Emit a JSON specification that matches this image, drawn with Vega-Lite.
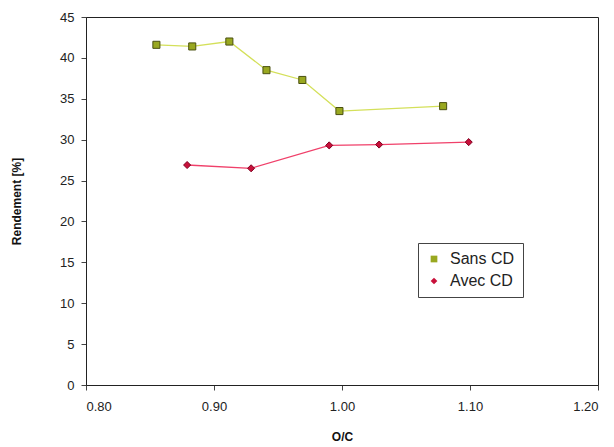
{
  "$schema": "https://vega.github.io/schema/vega-lite/v6.json",
  "width": 512,
  "height": 368,
  "autosize": {"type": "none"},
  "padding": {"left": 86, "top": 17, "right": 16, "bottom": 62},
  "background": "white",
  "config": {
    "font": "Liberation Sans",
    "view": {"stroke": "#222222", "strokeWidth": 1},
    "axis": {"grid": false, "domainColor": "#222222", "tickColor": "#444444", "labelColor": "#222222", "labelFontSize": 13, "titleFontSize": 12, "titleFontWeight": "bold", "titleColor": "#111111", "tickSize": 5}
  },
  "data": {
    "values": [
      {"oc": 0.855, "r": 41.6, "serie": "Sans CD"},
      {"oc": 0.883, "r": 41.4, "serie": "Sans CD"},
      {"oc": 0.912, "r": 42.0, "serie": "Sans CD"},
      {"oc": 0.941, "r": 38.5, "serie": "Sans CD"},
      {"oc": 0.969, "r": 37.3, "serie": "Sans CD"},
      {"oc": 0.998, "r": 33.5, "serie": "Sans CD"},
      {"oc": 1.079, "r": 34.1, "serie": "Sans CD"},
      {"oc": 0.879, "r": 26.9, "serie": "Avec CD"},
      {"oc": 0.929, "r": 26.5, "serie": "Avec CD"},
      {"oc": 0.990, "r": 29.3, "serie": "Avec CD"},
      {"oc": 1.029, "r": 29.4, "serie": "Avec CD"},
      {"oc": 1.099, "r": 29.7, "serie": "Avec CD"}
    ]
  },
  "encoding": {
    "x": {"field": "oc", "type": "quantitative", "title": "O/C", "scale": {"domain": [0.8, 1.2], "nice": false, "zero": false}, "axis": {"values": [0.8, 0.9, 1.0, 1.1, 1.2], "format": ".2f", "labelPadding": 10, "titlePadding": 18}},
    "y": {"field": "r", "type": "quantitative", "title": "Rendement [%]", "scale": {"domain": [0, 45], "nice": false}, "axis": {"values": [0, 5, 10, 15, 20, 25, 30, 35, 40, 45], "labelPadding": 7, "titlePadding": 36}}
  },
  "layer": [
    {
      "mark": {"type": "line", "strokeWidth": 1.3},
      "encoding": {
        "stroke": {"field": "serie", "type": "nominal", "scale": {"domain": ["Sans CD", "Avec CD"], "range": ["#d4e05a", "#f0406a"]}, "legend": null}
      }
    },
    {
      "mark": {"type": "point", "filled": true, "opacity": 1, "size": 50, "strokeWidth": 1},
      "encoding": {
        "fill": {"field": "serie", "type": "nominal", "title": null, "scale": {"domain": ["Sans CD", "Avec CD"], "range": ["#99a820", "#c8103a"]},
          "legend": {"orient": "none", "legendX": 332, "legendY": 226, "strokeColor": "#444444", "padding": 8, "labelFontSize": 16, "labelColor": "#222222", "symbolSize": 45, "rowPadding": 6, "fillColor": "white", "symbolStrokeWidth": 1, "labelOffset": 8}},
        "shape": {"field": "serie", "type": "nominal", "title": null, "scale": {"domain": ["Sans CD", "Avec CD"], "range": ["square", "diamond"]}, "legend": {"orient": "none", "legendX": 332, "legendY": 226, "strokeColor": "#444444", "padding": 8, "labelFontSize": 16, "labelColor": "#222222", "symbolSize": 45, "rowPadding": 6, "fillColor": "white", "labelOffset": 8}},
        "stroke": {"field": "serie", "type": "nominal", "scale": {"domain": ["Sans CD", "Avec CD"], "range": ["#4a5010", "#800020"]}, "legend": null}
      }
    }
  ],
  "resolve": {"scale": {"stroke": "independent"}}
}
